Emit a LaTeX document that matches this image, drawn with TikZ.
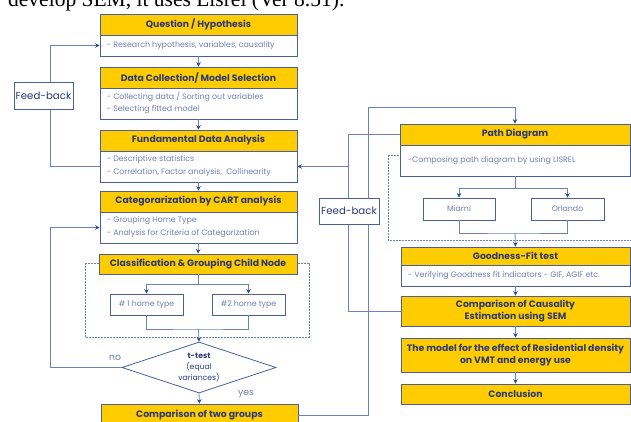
\documentclass[tikz,border=0pt]{standalone}
\usepackage{fontspec}
\setmainfont{Poppins}
\newfontfamily\seriffont{Liberation Serif}
\usetikzlibrary{shapes.geometric,arrows.meta,shadows,calc}
\definecolor{gold}{HTML}{FFCC00}
\definecolor{bord}{HTML}{4A5F9E}
\definecolor{lin}{HTML}{6A82BE}
\definecolor{arrc}{HTML}{2B4A9C}
\definecolor{htext}{HTML}{2E3A78}
\definecolor{btext}{HTML}{7080B4}
\tikzset{
  box/.style={draw=bord, line width=0.8pt, inner sep=0pt,
    drop shadow={shadow xshift=1.3pt, shadow yshift=-1.3pt, fill=black!40, opacity=0.5}},
  hdr/.style={box, fill=gold, text=htext, align=center, font=\fontsize{9.3}{12.5}\selectfont\bfseries},
  bdy/.style={box, fill=white},
  btxt/.style={text=btext, font=\fontsize{7.9}{9}\selectfont, anchor=west, inner sep=0pt},
  small/.style={box, fill=white, text=btext, font=\fontsize{7.8}{9}\selectfont},
  ln/.style={draw=lin, line width=0.8pt},
  arr/.style={ln, -{Stealth[length=4.5pt,width=4.5pt,color=arrc]}},
  dash box/.style={draw=lin, line width=0.8pt, dash pattern=on 1.6pt off 1.4pt},
  fbk/.style={draw=bord, line width=0.8pt, fill=white, text=htext, inner sep=0pt,
    font=\fontsize{10.2}{12}\selectfont},
  lbl/.style={text=btext, font=\fontsize{9.3}{11}\selectfont, inner sep=0pt}
}
\begin{document}
\begin{tikzpicture}[x=1pt,y=-1pt]
\useasboundingbox (0,0) rectangle (631,422);
\clip (0,0) rectangle (631,422);
% top cut-off sentence
\node[anchor=base west, inner sep=0pt, font=\seriffont\fontsize{21.5}{24}\selectfont] (top) at (8,6.5) {develop SEM, it uses Lisrel (Ver 8.51).};
% dashed group boxes
\draw[dash box] (85,263) rectangle (309,337);
\draw[dash box] (388,155) rectangle (640,240);
% left column
\node[hdr, minimum width=197, minimum height=21] (qh) at (198.5,24.5) {Question / Hypothesis};
\node[bdy, minimum width=197, minimum height=21] (qb) at (198.5,45.5) {};
\node[btxt] at ($(qb.west)+(7,0)$) {- Research hypothesis, variables, causality};
\node[hdr, minimum width=197, minimum height=21] (dh) at (198.5,77.5) {Data Collection/ Model Selection};
\node[bdy, minimum width=197, minimum height=31] (db) at (198.5,103.5) {};
\node[btxt] at ($(db.west)+(7,-6.5)$) {- Collecting data / Sorting out variables};
\node[btxt] at ($(db.west)+(7,6.5)$) {- Selecting fitted model};
\node[hdr, minimum width=197, minimum height=21] (fh) at (198.5,140.5) {Fundamental Data Analysis};
\node[bdy, minimum width=197, minimum height=31] (fb) at (198.5,166.5) {};
\node[btxt] at ($(fb.west)+(7,-6.5)$) {- Descriptive statistics};
\node[btxt] at ($(fb.west)+(7,6.5)$) {- Correlation, Factor analysis,~ Collinearity};
\node[hdr, minimum width=197, minimum height=21] (ch) at (198.5,201.5) {Categorarization by CART analysis};
\node[bdy, minimum width=197, minimum height=31] (cb) at (198.5,227.5) {};
\node[btxt] at ($(cb.west)+(7,-6.5)$) {- Grouping Home Type};
\node[btxt] at ($(cb.west)+(7,6.5)$) {- Analysis for Criteria of Categorization};
\node[hdr, minimum width=198, minimum height=20] (clh) at (198,264) {Classification \& Grouping Child Node};
\node[small, minimum width=73, minimum height=21] (h1) at (146.5,304.5) {\# 1 home type};
\node[small, minimum width=73, minimum height=21] (h2) at (248.5,304.5) {\#2 home type};
\node[diamond, draw=bord, line width=0.8pt, fill=white, minimum width=154, minimum height=51, inner sep=0pt] (dia) at (199,367.5) {};
\node[text=htext, align=center, font=\fontsize{7.7}{10.8}\selectfont] (dt) at (dia.center) {\textbf{t-test}\\(equal\\variances)};
\node[hdr, minimum width=197, minimum height=22] (tg) at (199.5,415) {Comparison of two groups};
% right column
\node[hdr, minimum width=230, minimum height=21] (ph) at (515,134.5) {Path Diagram};
\node[bdy, minimum width=230, minimum height=31] (pb) at (515,160.5) {};
\node[btxt] at ($(pb.west)+(8,0)$) {-Composing path diagram by using LISREL};
\node[small, minimum width=72, minimum height=22] (mi) at (459,209) {Miami};
\node[small, minimum width=73, minimum height=22] (or) at (567.5,209) {Orlando};
\node[hdr, minimum width=229, minimum height=18] (gh) at (515.5,256) {Goodness-Fit test};
\node[bdy, minimum width=229, minimum height=21] (gb) at (515.5,275.5) {};
\node[btxt] at ($(gb.west)+(7,0)$) {- Verifying Goodness fit indicators - GIF, AGIF etc.};
\node[hdr, minimum width=229, minimum height=30] (cc) at (515.5,311) {Comparison of Causality\\Estimation using SEM};
\node[hdr, minimum width=229, minimum height=34] (mo) at (515.5,355) {The model for the effect of Residential density\\on VMT and energy use};
\node[hdr, minimum width=229, minimum height=20] (cn) at (515.5,394) {Conclusion};
% helper coordinates
\coordinate (lx) at (50,0);
\coordinate (rxa) at (348,0);
\coordinate (rxb) at (368,107);
\coordinate (j1) at (198.5,329);
\coordinate (j2) at (515,233);
% left connectors
\draw[arr] (qb.south) -- (dh.north);
\draw[arr] (db.south) -- (fh.north);
\draw[arr] (fb.south) -- (ch.north);
\draw[arr] (cb.south) -- (clh.north);
\draw[ln] (clh.south) -- ++(0,10) coordinate (s1);
\draw[arr] (s1) -| (h1.north);
\draw[arr] (s1) -| (h2.north);
\draw[ln] (h1.south) |- (j1) -| (h2.south);
\draw[arr] (j1) -- (dia.north);
\draw[arr] (dia.west) -| (lx |- cb.west) -- (cb.west);
\draw[arr] (dia.south) -- (tg.north);
\draw[arr] (fb.west) -| (lx |- qb.west) -- (qb.west);
\node[lbl] (no) at (115,358) {no};
\node[lbl] (yes) at (246,394) {yes};
% right connectors
\draw[arr] (tg.east) -| (rxb) -| (ph.north);
\draw[ln] (ph.west) -| (rxa |- cc.west) -- (cc.west);
\draw[arr] (rxa |- fb.east) -- (fb.east);
\draw[ln] (pb.south) -- ++(0,12) coordinate (s2);
\draw[arr] (s2) -| (mi.north);
\draw[arr] (s2) -| (or.north);
\draw[ln] (mi.south) |- (j2) -| (or.south);
\draw[arr] (j2) -- (gh.north);
\draw[arr] (gb.south) -- (cc.north);
\draw[arr] (cc.south) -- (mo.north);
\draw[arr] (mo.south) -- (cn.north);
% feed-back boxes
\node[fbk, minimum width=59, minimum height=27] (fb1) at (43.5,95.5) {Feed-back};
\node[fbk, minimum width=60, minimum height=26] (fb2) at (349,211) {Feed-back};
\end{tikzpicture}
\end{document}
